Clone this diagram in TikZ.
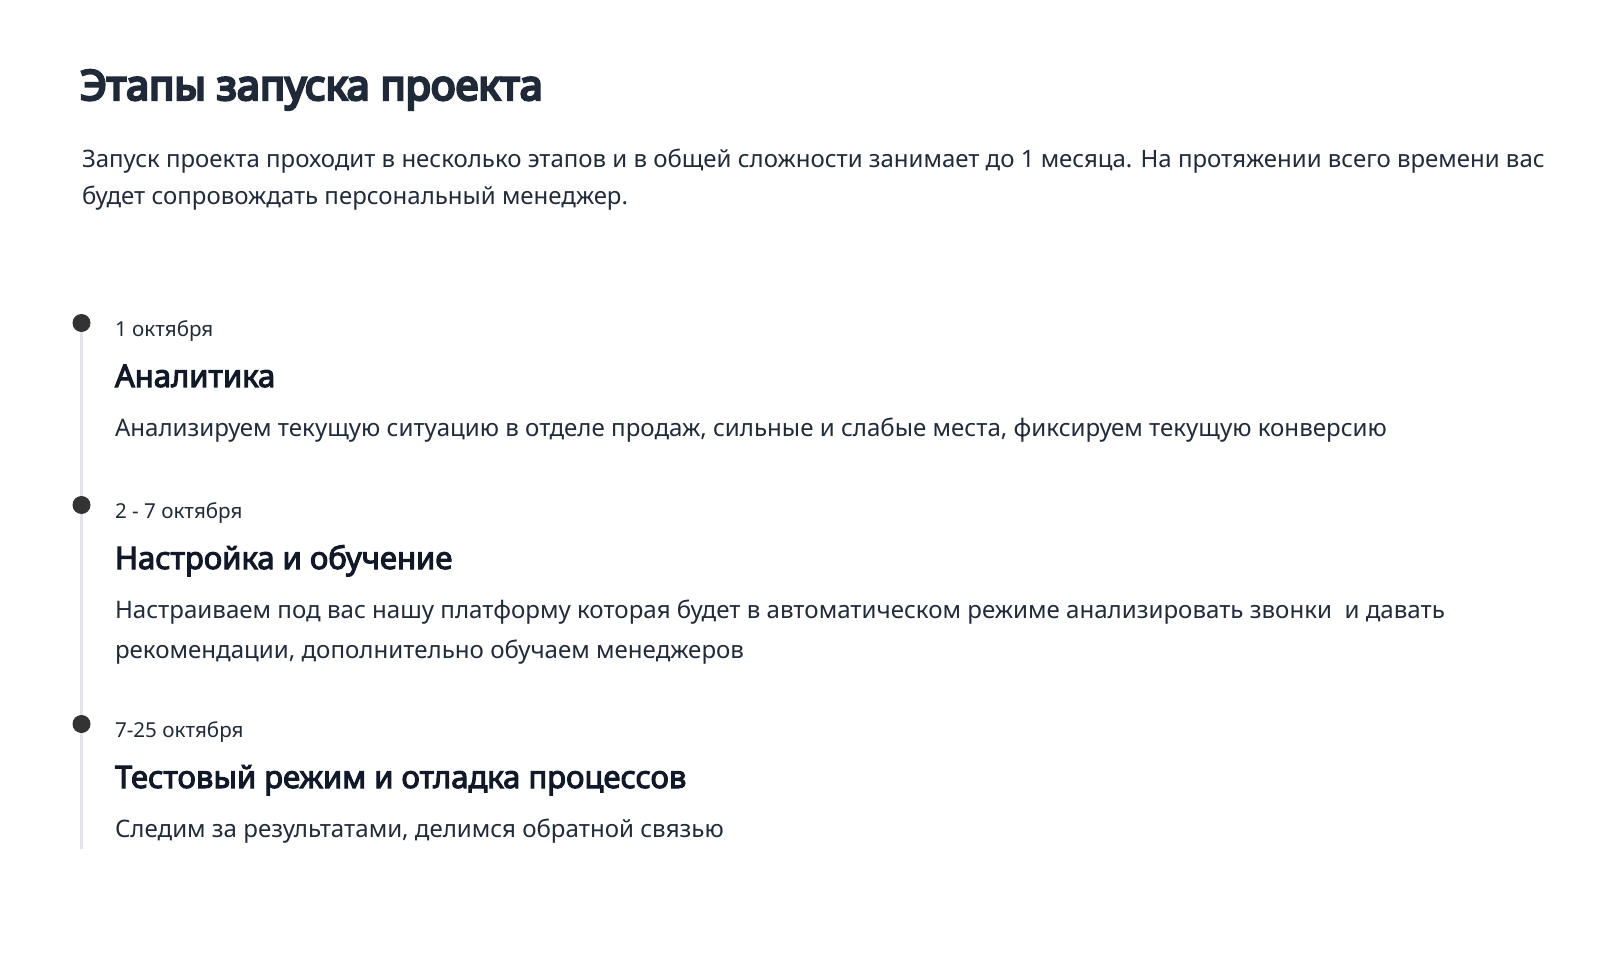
\documentclass[tikz,border=0pt]{standalone}
\usepackage{fontspec}
\setmainfont{Noto Sans}
\newfontfamily\heavyfont{Noto Sans}[FakeBold=6]
\newfontfamily\boldface{Noto Sans}[FakeBold=3.4]
\usetikzlibrary{backgrounds}
\definecolor{titleink}{HTML}{1F2937}
\definecolor{bodyink}{HTML}{222B3A}
\definecolor{headink}{HTML}{111827}
\definecolor{dotink}{HTML}{333333}
\definecolor{railink}{HTML}{E4E4EA}
\tikzset{
  txt/.style={anchor=base west,inner sep=0pt,outer sep=0pt,text=bodyink},
  titletxt/.style={txt,text=titleink,font=\heavyfont\fontsize{41.5}{47}\selectfont},
  leadtxt/.style={txt,font=\fontsize{24}{37}\selectfont},
  datetxt/.style={txt,font=\fontsize{20.6}{26}\selectfont},
  headtxt/.style={txt,text=headink,font=\boldface\fontsize{31}{36}\selectfont},
  desctxt/.style={txt,font=\fontsize{24.1}{40}\selectfont},
  stagedot/.style={circle,fill=dotink,inner sep=0pt,minimum size=18pt},
  rail/.style={draw=railink,line width=2.6pt}
}
\begin{document}
\begin{tikzpicture}[x=1pt,y=-1pt]
\useasboundingbox (0,0) rectangle (1622,957);
\node[titletxt] (title) at (80,100) {Этапы запуска проекта};
\node[leadtxt] (lead1) at (82,168) {Запуск проекта проходит в несколько этапов и в общей сложности занимает до 1 месяца. На протяжении всего времени вас};
\node[leadtxt] (lead2) at (82,205) {будет сопровождать персональный менеджер.};
\foreach \y/\d/\h/\t [count=\i] in {
  323/{1 октября}/{Аналитика}/{Анализируем текущую ситуацию в отделе продаж, сильные и слабые места, фиксируем текущую конверсию},
  505/{2 - 7 октября}/{Настройка и обучение}/{Настраиваем под вас нашу платформу которая будет в автоматическом режиме анализировать звонки\ \ и давать},
  724/{7-25 октября}/{Тестовый режим и отладка процессов}/{Следим за результатами, делимся обратной связью}} {
  \node[stagedot] (dot\i) at (81.5,\y) {};
  \node[datetxt] (date\i) at (115,\y+13.5) {\d};
  \node[headtxt] (head\i) at (115,\y+64) {\h};
  \node[desctxt] (desc\i) at (115,\y+113) {\t};
}
\node[desctxt] (desc2b) at (115,658) {рекомендации, дополнительно обучаем менеджеров};
\coordinate (railend) at (81.5,849);
\begin{pgfonlayer}{background}
  \fill[white] (0,0) rectangle (1622,957);
  \draw[rail] (dot1.center) -- (railend);
\end{pgfonlayer}
\end{tikzpicture}
\end{document}
